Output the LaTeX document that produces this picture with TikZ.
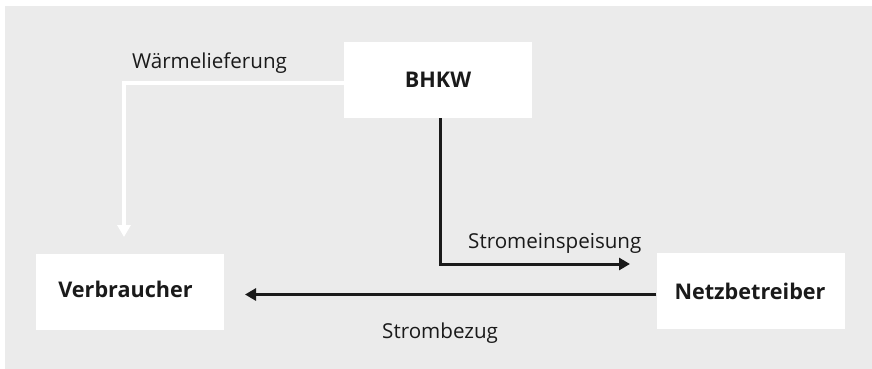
\documentclass[tikz,border=0pt]{standalone}
\usepackage{fontspec}
\setmainfont{Open Sans}
\usetikzlibrary{arrows.meta}
\definecolor{bggrey}{HTML}{EBEBEB}
\definecolor{ink}{HTML}{1A1A1A}
\begin{document}
\begin{tikzpicture}[x=1pt,y=-1pt,
  box/.style={fill=white,draw=none,inner sep=0pt,minimum width=188pt,minimum height=76pt},
  boxtxt/.style={inner sep=0pt,anchor=base,font=\fontsize{21.6}{24}\selectfont\bfseries,text=ink},
  lbl/.style={inner sep=0pt,anchor=base west,font=\fontsize{20.6}{23}\selectfont,text=ink},
  blk/.style={draw=ink,line width=3pt,-{Triangle[length=11pt,width=12pt]}},
  wht/.style={draw=white,line width=4pt,-{Triangle[length=12pt,width=13pt]}}]
\useasboundingbox (0,0) rectangle (872,369);
\fill[bggrey] (5,6) rectangle (872,369);
\node[box] (bhkw) at (438,80) {};
\node[box] (verb) at (129.5,291.5) {};
\node[box] (netz) at (750.5,291) {};
\node[boxtxt] (bhkwt) at (438,88) {BHKW};
\node[boxtxt] (verbt) at (125.5,297) {Verbraucher};
\node[boxtxt] (netzt) at (750,299) {Netzbetreiber};
\coordinate (wcorner) at (124,82.5);
\coordinate (wend) at (124,237);
\coordinate (bstart) at (440.5,118);
\coordinate (bcorner) at (440.5,264);
\coordinate (bend) at (630,264);
\draw[wht] (bhkw.west |- wcorner) -- (wcorner) -- (wend);
\draw[blk] (bstart) -- (bcorner) -- (bend);
\draw[blk] (netz.west |- 0,294.5) -- (245,294.5);
\node[lbl] (w) at (132,69) {Wärmelieferung};
\node[lbl] (s1) at (468,248) {Stromeinspeisung};
\node[lbl] (s2) at (382,338) {Strombezug};
\end{tikzpicture}
\end{document}
